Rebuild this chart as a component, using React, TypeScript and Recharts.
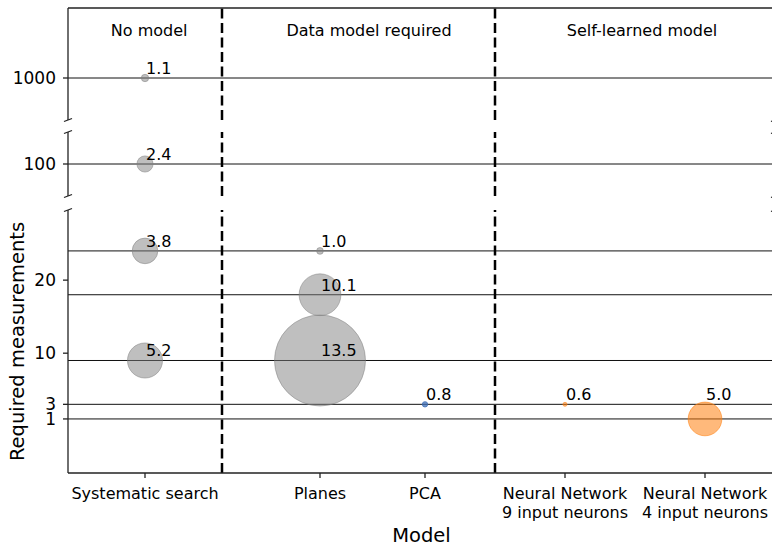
import { ReferenceLine, Scatter, ScatterChart, XAxis, YAxis, ZAxis } from "recharts";

// categories on the x axis and where they sit
const models = [
  "Systematic search",
  "Planes",
  "PCA",
  "Neural Network\n9 input neurons",
  "Neural Network\n4 input neurons",
];
const modelX = [0, 1.25, 2, 3, 4];
const groups = ["No model", "Data model required", "Self-learned model"];
const groupX = [0.03, 1.6, 3.55];
const dividerX = [0.55, 2.5];

// one entry per bubble
const pointModel = [0, 0, 0, 0, 1, 1, 1, 2, 3, 4];
const measurements = [1000, 100, 24, 9, 24, 18, 9, 3, 3, 1];
const labelAt = [1000, 100, 24, 9, 24, 18, 9, 3, 3, 3];
const values = [1.1, 2.4, 3.8, 5.2, 1.0, 10.1, 13.5, 0.8, 0.6, 5.0];
const bubble = [1.1, 2.4, 3.8, 5.2, 1.0, 6.2, 13.5, 0.8, 0.6, 5.0];
const kind = ["none", "none", "none", "none", "data", "data", "data", "pca", "nn", "nn"];

const FONT = "DejaVu Sans, Verdana, sans-serif";
const W = 776;
const LEFT = 68;

const points = values.map((v, i) => ({
  x: modelX[pointModel[i]],
  y: measurements[i],
  z: bubble[i] * bubble[i],
  kind: kind[i],
}));

const valueLabels = values.map((v, i) => ({
  x: modelX[pointModel[i]],
  y: labelAt[i],
  label: v.toFixed(1),
}));

const titles = groups.map((g, i) => ({ x: groupX[i], y: 1060, label: g }));

const colors: Record<string, string> = { gray: "#808080", pca: "#3d6db5", nn: "#ff7f0e" };

type Panel = {
  top: number;
  height: number;
  mTop: number;
  mBottom: number;
  domain: [number, number];
  ticks: number[];
  bottom?: boolean;
};

const panels: Panel[] = [
  { top: 0, height: 122, mTop: 8, mBottom: 2, domain: [940, 1100], ticks: [1000] },
  { top: 130, height: 68, mTop: 2, mBottom: 2, domain: [75, 125], ticks: [100] },
  { top: 208, height: 338, mTop: 2, mBottom: 0, domain: [-6.4, 29.6], ticks: [1, 3, 10, 20], bottom: true },
];

const inside = (p: Panel, v: number) => v >= p.domain[0] && v <= p.domain[1];

function XTick(props: any) {
  const { x, y, payload } = props;
  const idx = modelX.indexOf(payload.value);
  const lines = (models[idx] ?? "").split("\n");
  return (
    <text x={x} y={y} textAnchor="middle" fontFamily={FONT} fontSize={16} fill="#000">
      {lines.map((l, i) => (
        <tspan key={i} x={x} dy={19}>
          {l}
        </tspan>
      ))}
    </text>
  );
}

function YLabel(props: any) {
  const vb = props.viewBox ?? { x: 0, y: 210, width: 68, height: 263 };
  const cx = vb.x + 24;
  const cy = vb.y + vb.height / 2;
  return (
    <text
      x={cx}
      y={cy}
      transform={`rotate(-90, ${cx}, ${cy})`}
      textAnchor="middle"
      fontFamily={FONT}
      fontSize={19.5}
      fill="#000"
    >
      Required measurements
    </text>
  );
}

const ValueLabel = (props: any) => (
  <text x={props.cx + 1} y={props.cy - 4} fontFamily={FONT} fontSize={16} fill="#000">
    {props.payload.label}
  </text>
);

const TitleLabel = (props: any) => (
  <text x={props.cx} y={props.cy} textAnchor="middle" fontFamily={FONT} fontSize={16} fill="#000">
    {props.payload.label}
  </text>
);

function PanelChart({ p }: { p: Panel }) {
  const pts = points.filter((d) => inside(p, d.y));
  const labels = valueLabels.filter((d) => inside(p, d.y));
  const hlines = Array.from(new Set(pts.map((d) => d.y)));
  const gray = pts.filter((d) => d.kind === "none" || d.kind === "data");
  const pca = pts.filter((d) => d.kind === "pca");
  const nn = pts.filter((d) => d.kind === "nn");
  return (
    <div style={{ position: "absolute", left: 0, top: p.top }}>
      <ScatterChart
        width={W}
        height={p.height}
        margin={{ top: p.mTop, bottom: p.mBottom, left: 0, right: 1 }}
      >
        <XAxis
          type="number"
          dataKey="x"
          domain={[-0.55, 4.5]}
          allowDataOverflow
          ticks={modelX}
          interval={0}
          hide={!p.bottom}
          height={p.bottom ? 73 : 0}
          tickSize={5}
          tickMargin={2}
          tick={<XTick />}
          stroke="#222"
          strokeWidth={1.3}
          label={{
            value: "Model",
            position: "insideBottom",
            offset: 4,
            fontFamily: FONT,
            fontSize: 19.5,
            fill: "#000",
          }}
        />
        <YAxis
          type="number"
          dataKey="y"
          domain={p.domain}
          allowDataOverflow
          ticks={p.ticks}
          interval={0}
          width={LEFT}
          tickSize={5}
          tickMargin={7}
          stroke="#222"
          strokeWidth={1.3}
          tick={{ fill: "#000", fontSize: 17, fontFamily: FONT }}
          label={p.bottom ? <YLabel /> : undefined}
        />
        <ZAxis type="number" dataKey="z" domain={[0, 182.25]} range={[0, 6503]} />
        {hlines.map((v) => (
          <ReferenceLine key={v} y={v} stroke="#111" strokeWidth={1} />
        ))}
        {dividerX.map((v) => (
          <ReferenceLine key={v} x={v} stroke="#000" strokeWidth={2.5} strokeDasharray="10 4.5" />
        ))}
        <Scatter
          data={gray}
          fill={colors.gray}
          fillOpacity={0.5}
          stroke={colors.gray}
          strokeOpacity={0.5}
          strokeWidth={1}
          isAnimationActive={false}
        />
        <Scatter
          data={pca}
          fill={colors.pca}
          fillOpacity={0.75}
          stroke={colors.pca}
          strokeOpacity={0.75}
          strokeWidth={1}
          isAnimationActive={false}
        />
        <Scatter
          data={nn}
          fill={colors.nn}
          fillOpacity={0.55}
          stroke={colors.nn}
          strokeOpacity={0.55}
          strokeWidth={1}
          isAnimationActive={false}
        />
        <Scatter data={labels} shape={ValueLabel} isAnimationActive={false} />
        {p.top === 0 && <Scatter data={titles} shape={TitleLabel} isAnimationActive={false} />}
      </ScatterChart>
    </div>
  );
}

// left/right break marks at the ends of each panel spine
const breaks = [120, 132, 196, 210];

export default function App() {
  return (
    <div
      style={{
        position: "absolute",
        left: 0,
        top: 0,
        width: 772,
        height: 546,
        overflow: "hidden",
        background: "#fff",
      }}
    >
      {panels.map((p, i) => (
        <PanelChart key={i} p={p} />
      ))}
      <svg
        width={W}
        height={546}
        style={{ position: "absolute", left: 0, top: 0, pointerEvents: "none" }}
      >
        <line x1={LEFT} x2={775} y1={8} y2={8} stroke="#222" strokeWidth={1.3} />
        {breaks.map((b) =>
          [LEFT, 775].map((bx) => (
            <line
              key={`${b}-${bx}`}
              x1={bx - 4}
              y1={b + 1.5}
              x2={bx + 4}
              y2={b - 1.5}
              stroke="#222"
              strokeWidth={1.3}
            />
          ))
        )}
      </svg>
    </div>
  );
}
